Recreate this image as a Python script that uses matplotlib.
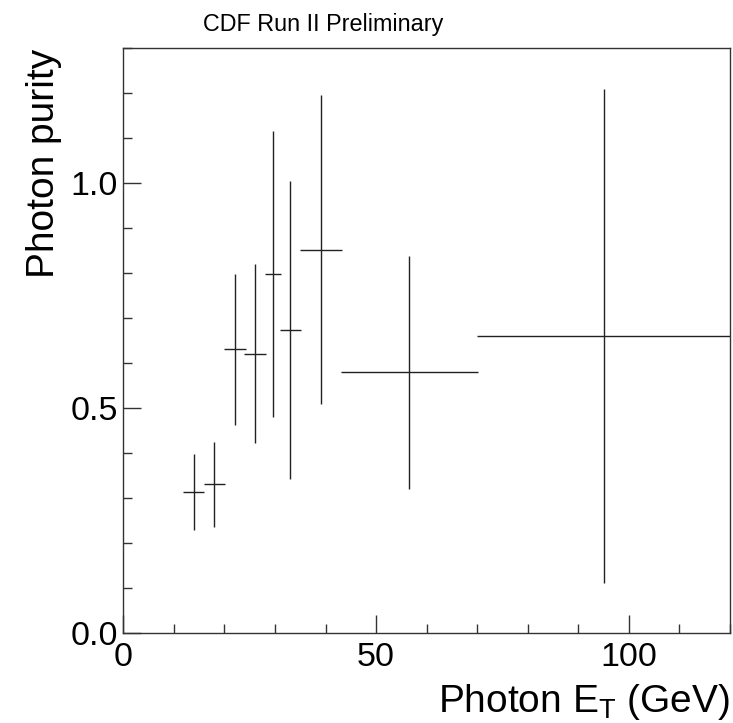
import matplotlib
matplotlib.use("Agg")
import matplotlib.pyplot as plt
from matplotlib.ticker import MultipleLocator, FixedFormatter, FixedLocator

# Data
x_center = [13.95, 17.97, 22.07, 26.1, 29.66, 33.03, 39.1, 56.6, 95.1]
x_low    = [11.9, 15.9, 19.9, 23.9, 27.94, 30.9, 34.95, 43.0, 69.9]
x_high   = [16.05, 20.15, 24.25, 28.3, 31.19, 35.2, 43.27, 70.08, 120.2]
purity   = [0.3135, 0.331, 0.630, 0.620, 0.798, 0.673, 0.852, 0.580, 0.661]
err_up   = [0.397, 0.425, 0.799, 0.821, 1.116, 1.005, 1.197, 0.838, 1.209]
err_down = [0.228, 0.236, 0.461, 0.421, 0.479, 0.342, 0.509, 0.320, 0.111]

x_ticks = [0, 50, 100]
x_tick_labels = ["0", "50", "100"]
y_ticks = [0.0, 0.5, 1.0]
y_tick_labels = ["0.0", "0.5", "1.0"]

plt.rcParams['font.family'] = ['Liberation Sans', 'DejaVu Sans']

fig = plt.figure(figsize=(7.33, 7.23), dpi=100)
ax = fig.add_axes([123.3/733, (723-632.7)/723, (730-123.3)/733, (632.7-48.3)/723])

xerr = [[c - l for c, l in zip(x_center, x_low)], [h - c for c, h in zip(x_center, x_high)]]
yerr = [[p - d for p, d in zip(purity, err_down)], [u - p for p, u in zip(purity, err_up)]]
ax.errorbar(x_center, purity, xerr=xerr, yerr=yerr, fmt='none', ecolor='#222222',
            elinewidth=1.0, capsize=0)

ax.set_xlim(0, 120)
ax.set_ylim(0, 1.3)

ax.xaxis.set_major_locator(FixedLocator(x_ticks))
ax.xaxis.set_major_formatter(FixedFormatter(x_tick_labels))
ax.xaxis.set_minor_locator(MultipleLocator(10))
ax.yaxis.set_major_locator(FixedLocator(y_ticks))
ax.yaxis.set_major_formatter(FixedFormatter(y_tick_labels))
ax.yaxis.set_minor_locator(MultipleLocator(0.1))

ax.tick_params(which='both', direction='in', top=False, right=False, color='#333333', width=1.0)
ax.tick_params(which='major', length=13)
ax.tick_params(which='minor', length=6.5)
ax.tick_params(axis='x', which='major', labelsize=24.5, pad=7)
ax.tick_params(axis='y', which='major', labelsize=24.5, pad=4)

for s in ax.spines.values():
    s.set_color('#333333')
    s.set_linewidth(1.0)

ax.set_ylabel("Photon purity", fontsize=28, loc='top')
ax.yaxis.set_label_coords(-0.101, 1.0)
ax.set_xlabel("Photon E$_\\mathregular{T}$ (GeV)", fontsize=28, loc='right')
ax.xaxis.set_label_coords(1.0, -0.084)

fig.text(323/733, 1 - 24/723, "CDF Run II Preliminary", fontsize=16.8, ha='center', va='center')

fig.savefig("out.png", dpi=100, facecolor='white')
